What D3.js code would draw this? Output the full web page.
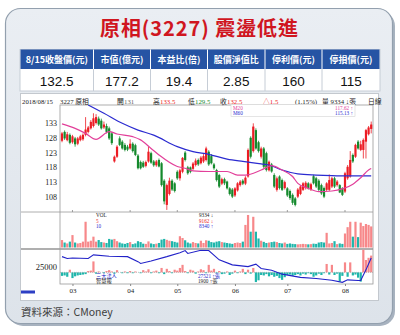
<!DOCTYPE html>
<html>
<head>
<meta charset="utf-8">
<script src="https://cdn.jsdelivr.net/npm/d3@7"></script>
<style>
html, body { margin: 0; padding: 0; background: #fff; }
svg { display: block; }
</style>
</head>
<body>
<svg id="chart" width="400" height="335"></svg>
<script>
// ---- table data
var headers = ['8/15收盤價(元)', '市值(億元)', '本益比(倍)', '股價淨值比', '停利價(元)', '停損價(元)'];
var headerValues = ['132.5', '177.2', '19.4', '2.85', '160', '115'];

// ---- daily candles (trading day index 0..118)
var opens = [127,130,127.2,129,126.5,127.8,126,127.2,127.5,129, 130,131.2,132,133,134.5,133.8,131.5,132,131.2,129.5,
  120,121.6,127.8,126.7,125.6,125,124.4,126,125.5,122, 119.8,119.6,118.5,120,122.8,120,118.7,120.5,119.4,113.5,
  105.3,109,113.5,112.6,116.5,114.3,116.5,123,118,118, 117.5,118.8,120.5,119.4,120,120.5,123.3,121.8,119,117.1,
  115.4,112.5,114,113.2,110.9,110.5,108.5,110.2,112,113.5, 112.5,114.9,128,123.5,130.6,126.5,121.6,124.4,122.8,117,
  119,115.4,110.4,114.9,113.7,111,110.9,110,108.7,107.5, 108.1,109,110.4,111,112.6,110.5,115,114.3,113.5,112,
  111,110.4,110.4,111.5,114.3,112,112,110.9,109.8,114.3, 114.9,122.2,121.6,126.7,123.9,123.9,126.7,129.2,131];
var highs = [130,130.5,130,129.5,129,128.3,128.3,129,129.5,135, 132,134,136.3,136,135.2,134.5,133.5,132.8,131.8,130,
  122,125.5,128.5,127.2,126.2,125.6,127.5,126.5,126,122.5, 120.3,120.2,120.3,125,123.3,120.5,120.5,121,119.8,114,
  112.5,114.5,114,113,117,117.5,121.5,123.5,118.5,118.3, 119.8,121,121,121.8,122.5,125,123.8,122.5,119.5,117.5,
  115.8,114.5,114.5,113.5,111.3,111,111.3,113,113.7,114, 115,124.4,128.5,132.9,131.2,127,125,124.9,123.3,120.3,
  119.5,116,114.9,115.3,114.2,113.5,111.3,110.5,109.2,108, 111,112,113,113.3,113,112.8,115.5,114.8,114,112.5,
  111.5,113,115.6,114.8,114.8,113.7,112.3,111.3,116.5,118.8, 123.5,122.7,126,127.2,127,127.8,131,132,133.5];
var lows = [126.5,127.3,126.8,125.8,126,125,125.5,126.8,127,128.5, 129.5,130.8,131.5,132.5,132,130.8,131,129.5,127.3,125.6,
  119.6,121.2,125.2,124,123.4,123.5,124,123,121.8,117.3, 117.3,117.8,118,119.6,119.2,118.2,118.2,118,111.5,105.5,
  103.6,108.5,110,109.5,113.8,113.5,116,120,115.5,116, 117,118.3,118.5,119,119.5,120,118.5,119,117.2,113.2,
  111,112,112,110.5,108.5,107.6,108,109.8,111.5,112, 112,114.5,121,123,124,123,121,117.7,116.6,116.6,
  116.2,111,109.8,110.5,110,110.5,108,107,105.3,104.8, 107.6,108.6,110,110.5,110.5,110,112.2,111,110,108.7,
  107.6,110,110,111,111,111.5,109.3,108.3,109.3,113.8, 114.5,119.5,121.2,124,123.5,121,121,128.8,129.5];
var closes = [129.5,127.8,129.2,126.3,128.5,125.8,127.8,128.5,129,130.8, 131.5,133.4,134.6,135,132.5,131.2,132.5,130,127.8,126.2,
  121.6,125,125.6,124.4,123.9,124,126,123.5,122.2,117.7, 117.7,118.2,119.8,123.3,119.6,118.7,120,118.3,112,106.5,
  112,113.5,110.5,110,114.3,117,121.2,120.5,116,116.5, 119.3,120.3,119,121.3,121.8,124.4,119,119.4,117.7,113.7,
  111.5,114,112.6,110.9,109,108.1,110.9,112.6,113.2,112.5, 114.5,123.9,121.6,131.8,124.4,123.5,124.4,118.2,117.1,119.9,
  116.6,111.5,114.3,111,110.4,113,108.5,107.6,106,105.3, 110.5,111.5,112.6,112.8,110.9,112.3,112.6,111.5,110.4,109.2,
  108.1,112.6,113.7,114.3,111.5,113.2,109.5,108.7,116,118.2, 120.5,120,125.6,124.4,125.8,127.3,130.6,131.5,132.5];
var volumes = [3300,2200,1800,2600,5500,2200,1800,2000,2600,11400, 2600,3000,4800,2600,3300,2400,2200,2000,3800,3500,
  3800,2800,2200,1800,1600,2000,2400,1500,1800,2800, 2400,1700,1600,2700,1800,1500,1700,2000,3500,3800,
  3400,3000,2800,2500,2200,5000,4200,3200,2200,1800, 2400,2000,1800,3000,2000,3200,3000,2400,2200,2600,
  2800,2400,2200,2000,1800,1600,2000,2200,2000,2600, 10000,14400,7000,13600,7000,4000,3000,2500,2000,2200,
  2400,2600,2400,2000,1800,2200,1600,1800,1600,1500, 1400,1500,1600,1500,1400,1500,1700,1600,2200,2400,
  2200,6500,1800,2000,2800,1500,1800,1600,6200,9000, 11400,4800,11400,4600,11000,9500,10400,10000,9334];
// institutional net buy/sell (張)
var instNet = [-400,-350,-500,300,-650,-450,-350,-300,-250,-200, 150,200,1240,-150,100,0,-100,150,250,100,
  -150,250,0,-100,100,-100,150,-100,100,0, -100,250,100,350,-100,100,200,-100,500,-200,
  400,150,-100,300,200,500,850,150,-100,300, 200,-150,100,350,250,-100,850,200,400,-100,
  150,-200,-150,100,-300,-150,200,-100,100,400, -200,300,-150,500,-1100,-900,-300,-350,-200,-450,
  -300,-500,-400,-650,-850,-550,-300,-250,-400,-300, -200,-350,-150,-250,-100,-200,-500,-350,-150,-300,
  -100,950,-250,850,-300,-150,-1050,-400,1130,-500, 1130,-350,-250,-600,-1050,2590,1400,1650,1900];

// ---- moving averages (day index, value)
var ma20Day = [0,5,9,13,18,21,27,30,34,37,44,47,50,56,63,67,70,76,80,84,88,90,94,98,103,107,111,114,117,118];
var ma20Val = [132.7,131.2,129.5,127.5,130.1,129.3,128.4,127.3,124.4,122.2,118.3,117.7,116.8,116.6,116.6,115.4,115.4,117.1,118.6,117.1,114.9,112.6,110.9,109.8,110,110.7,112.3,114.5,117.1,117.62];
var ma60Day = [10,16,23,29,35,44,50,56,63,69,76,79,84,90,97,103,109,118];
var ma60Val = [139.1,136.3,132.9,130.6,128.9,125,123.3,122.4,120.8,120,119.2,118.8,117.1,115.8,115.4,115.2,115.1,115.13];
// institutional holdings line
var holdDay = [0,2,4,10,12,18,25,29,30,34,40,45,47,48,53,56,60,65,71,74,76,80,84,91,97,103,107,109,113,114,116,118];
var holdVal = [27900,27400,27500,27400,28400,28000,27900,26500,26000,26700,27900,29000,29600,28800,29700,29600,27000,25600,25100,25800,24600,24100,23000,22100,21800,21300,20700,21400,21200,21200,24200,27521];

var priceTicks = [108, 113, 118, 123, 128, 133];
var monthLabels = ['03', '04', '05', '06', '07', '08'];
var monthStart = [4, 26, 44, 66, 86, 108];

var RED = '#ec1c24', GREEN = '#14892c', VRED = '#f7888a', VTEAL = '#1fb6ab';
var MA20C = '#e2409a', MA60C = '#2b2bd0';
var SERIF = '"Liberation Serif", "Noto Sans CJK TC", serif';
var SANS = '"Noto Sans CJK TC", "Liberation Sans", sans-serif';

var svg = d3.select('#chart');
var defs = svg.append('defs');

// ---- outer frame
var bg = defs.append('linearGradient').attr('id', 'bg').attr('x1', 0).attr('y1', 0).attr('x2', 0).attr('y2', 1);
bg.append('stop').attr('offset', 0).attr('stop-color', '#eaeef3');
bg.append('stop').attr('offset', 1).attr('stop-color', '#dde3ea');
svg.append('rect').attr('x', 8).attr('y', 11).attr('width', 387).attr('height', 315).attr('rx', 15)
  .attr('fill', '#a7b2bf');
svg.append('rect').attr('x', 5.5).attr('y', 8.5).attr('width', 387).attr('height', 315).attr('rx', 15)
  .attr('fill', 'url(#bg)').attr('stroke', '#93a0ae').attr('stroke-width', 1.2);

svg.append('text').attr('x', 199).attr('y', 36).attr('text-anchor', 'middle')
  .attr('font-family', SANS).attr('font-weight', 'bold').attr('font-size', 20)
  .attr('fill', '#d0161f').attr('textLength', 198).attr('lengthAdjust', 'spacing')
  .text('原相(3227) 震盪低進');

// ---- table
var colW = [73.5, 57, 57, 57.5, 57, 58];
var colX = [20];
colW.forEach(function(w, i) { colX.push(colX[i] + w); });
var tbl = svg.append('g');
tbl.append('rect').attr('x', 20).attr('y', 49.5).attr('width', 360).attr('height', 41.5).attr('fill', '#fff')
  .attr('stroke', '#c6cdd6');
tbl.selectAll('rect.h').data(headers).join('rect').attr('class', 'h')
  .attr('x', function(d, i) { return colX[i] + 0.5; }).attr('y', 49.5)
  .attr('width', function(d, i) { return colW[i] - 1; }).attr('height', 19.5)
  .attr('fill', '#2654a4');
tbl.selectAll('text.h').data(headers).join('text').attr('class', 'h')
  .attr('x', function(d, i) { return colX[i] + colW[i] / 2; }).attr('y', 63)
  .attr('text-anchor', 'middle').attr('font-family', SANS).attr('font-weight', 'bold')
  .attr('font-size', 9).attr('fill', '#fff').text(function(d) { return d; });
tbl.selectAll('line.v').data(colX.slice(1, -1)).join('line').attr('class', 'v')
  .attr('x1', function(d) { return d; }).attr('x2', function(d) { return d; })
  .attr('y1', 69).attr('y2', 91).attr('stroke', '#c6cdd6');
tbl.selectAll('text.v').data(headerValues).join('text').attr('class', 'v')
  .attr('x', function(d, i) { return colX[i] + colW[i] / 2; }).attr('y', 86)
  .attr('text-anchor', 'middle').attr('font-family', '"Liberation Sans", Arial, sans-serif')
  .attr('font-size', 13.5).attr('fill', '#111').text(function(d) { return d; });

// ---- chart panel
svg.append('rect').attr('x', 20.5).attr('y', 93.5).attr('width', 358).attr('height', 207)
  .attr('fill', '#fff').attr('stroke', '#c3c8ce');

var L = 60, R = 373, PT = 105, PB = 212, VT = 212, VB = 248.5, IT = 249.5, IB = 284;
var x = d3.scaleLinear().domain([0, 118]).range([62, 371.2]);
var yP = d3.scaleLinear().domain([102.9, 139.1]).range([PB, PT]);
var yV = d3.scaleLinear().domain([0, 15500]).range([247.5, 212.5]);
var yI = d3.scaleLinear().domain([-1320, 2590]).range([IB, IT]);
var yH = d3.scaleLinear().domain([20000, 30000]).range([284.86, 249.14]);

[['clipP', PT, PB], ['clipV', VT, VB], ['clipI', IT, IB]].forEach(function(c) {
  defs.append('clipPath').attr('id', c[0]).append('rect')
    .attr('x', L).attr('y', c[1]).attr('width', R - L).attr('height', c[2] - c[1]);
});

var days = d3.range(closes.length);
function isUp(i) { return closes[i] >= opens[i]; }

// frame lines
var fr = svg.append('g').attr('stroke', '#9a9a9a').attr('stroke-width', 0.8).attr('fill', 'none');
fr.append('rect').attr('x', L).attr('y', PT).attr('width', R - L).attr('height', IB - PT);
[PB, VB, IT].forEach(function(yy) {
  fr.append('line').attr('x1', 21).attr('x2', R).attr('y1', yy).attr('y2', yy);
});

// info row
var info = [
  ['2018/08/15', 22, '#222'], ['3227 原相', 60, '#222'], ['開', 117, '#222'], ['131', 124, '#666'],
  ['高', 153, '#222'], ['133.5', 160, RED], ['低', 188, '#222'], ['129.5', 195, GREEN],
  ['收', 220, '#222'], ['132.5', 227, RED], ['△1.5', 263, RED], ['(1.15%)', 295, '#222'],
  ['量 9334 ↓張', 322, '#222'], ['日線', 368, '#222']
];
svg.append('g').selectAll('text').data(info).join('text')
  .attr('x', function(d) { return d[1]; }).attr('y', 103.5)
  .attr('font-family', SERIF).attr('font-size', 6.8).attr('fill', function(d) { return d[2]; })
  .text(function(d) { return d[0]; });

// price axis
var ay = svg.append('g').attr('transform', 'translate(57,0)')
  .call(d3.axisLeft(yP).tickValues(priceTicks).tickSize(0).tickPadding(0));
ay.select('.domain').remove();
ay.selectAll('text').attr('font-family', SERIF).attr('font-size', 8).attr('fill', '#222');

// month ticks
svg.append('g').selectAll('line').data(monthStart).join('line')
  .attr('x1', function(d) { return x(d); }).attr('x2', function(d) { return x(d); })
  .attr('y1', PB - 2).attr('y2', PB).attr('stroke', '#888').attr('stroke-width', 0.8);
var ax = svg.append('g').attr('transform', 'translate(0,' + IB + ')')
  .call(d3.axisBottom(x).tickValues(monthStart).tickSize(2).tickPadding(2)
    .tickFormat(function(d, i) { return monthLabels[i]; }));
ax.select('.domain').remove();
ax.selectAll('line').attr('stroke', '#888');
ax.selectAll('text').attr('font-family', SERIF).attr('font-size', 7).attr('fill', '#222');

// candles
var cg = svg.append('g').attr('clip-path', 'url(#clipP)');
cg.selectAll('line').data(days).join('line')
  .attr('x1', function(i) { return x(i); }).attr('x2', function(i) { return x(i); })
  .attr('y1', function(i) { return yP(highs[i]); }).attr('y2', function(i) { return yP(lows[i]); })
  .attr('stroke', function(i) { return isUp(i) ? RED : GREEN; }).attr('stroke-width', 0.8);
cg.selectAll('rect').data(days).join('rect')
  .attr('x', function(i) { return x(i) - 1.1; }).attr('width', 2.2)
  .attr('y', function(i) { return yP(Math.max(opens[i], closes[i])); })
  .attr('height', function(i) { return Math.max(0.8, Math.abs(yP(opens[i]) - yP(closes[i]))); })
  .attr('fill', function(i) { return isUp(i) ? RED : GREEN; });

var maLine = d3.line().x(function(d) { return x(d[0]); }).y(function(d) { return yP(d[1]); }).curve(d3.curveMonotoneX);
cg.append('path').attr('d', maLine(d3.zip(ma60Day, ma60Val)))
  .attr('fill', 'none').attr('stroke', MA60C).attr('stroke-width', 1.2);
cg.append('path').attr('d', maLine(d3.zip(ma20Day, ma20Val)))
  .attr('fill', 'none').attr('stroke', MA20C).attr('stroke-width', 1.2);

// MA legend box
var lg = svg.append('g').attr('font-family', SERIF).attr('font-size', 5.2);
lg.append('rect').attr('x', 231).attr('y', 104.5).attr('width', 124).attr('height', 12)
  .attr('fill', '#fff').attr('stroke', '#d4d4d4').attr('stroke-width', 0.6);
lg.append('text').attr('x', 233).attr('y', 109.6).attr('fill', MA20C).text('M20');
lg.append('text').attr('x', 233).attr('y', 115.2).attr('fill', MA60C).text('M60');
lg.append('text').attr('x', 353).attr('y', 109.6).attr('text-anchor', 'end').attr('fill', MA20C).text('117.62 ↑');
lg.append('text').attr('x', 353).attr('y', 115.2).attr('text-anchor', 'end').attr('fill', MA60C).text('115.13 ↑');

// volume
var vg = svg.append('g').attr('clip-path', 'url(#clipV)');
vg.selectAll('rect').data(days).join('rect')
  .attr('x', function(i) { return x(i) - 1.1; }).attr('width', 2.2)
  .attr('y', function(i) { return yV(volumes[i]); })
  .attr('height', function(i) { return yV(0) - yV(volumes[i]); })
  .attr('fill', function(i) { return isUp(i) ? VRED : VTEAL; });
var vl = svg.append('g').attr('font-family', SERIF).attr('font-size', 5.2);
vl.append('text').attr('x', 96).attr('y', 217).attr('fill', '#222').text('VOL');
vl.append('text').attr('x', 96).attr('y', 222.5).attr('fill', RED).text('5');
vl.append('text').attr('x', 96).attr('y', 228).attr('fill', MA60C).text('10');
vl.append('text').attr('x', 199).attr('y', 217).attr('fill', '#222').text('9334 ↓');
vl.append('text').attr('x', 199).attr('y', 222.5).attr('fill', RED).text('9162 ↓');
vl.append('text').attr('x', 199).attr('y', 228).attr('fill', MA60C).text('8340 ↑');

// institutional panel
var ig = svg.append('g').attr('clip-path', 'url(#clipI)');
ig.selectAll('rect').data(days).join('rect')
  .attr('x', function(i) { return x(i) - 1.1; }).attr('width', 2.2)
  .attr('y', function(i) { return Math.min(yI(instNet[i]), yI(0)); })
  .attr('height', function(i) { return Math.abs(yI(instNet[i]) - yI(0)); })
  .attr('fill', function(i) { return instNet[i] >= 0 ? VRED : VTEAL; });
ig.append('line').attr('x1', L).attr('x2', R).attr('y1', yI(0)).attr('y2', yI(0))
  .attr('stroke', '#999').attr('stroke-width', 0.6).attr('stroke-dasharray', '1,1');
ig.append('path')
  .attr('d', d3.line().x(function(d) { return x(d[0]); }).y(function(d) { return yH(d[1]); })(d3.zip(holdDay, holdVal)))
  .attr('fill', 'none').attr('stroke', '#2222c8').attr('stroke-width', 1.1);

var ah = svg.append('g').attr('transform', 'translate(57,0)')
  .call(d3.axisLeft(yH).tickValues([25000]).tickFormat(d3.format('d')).tickSize(0).tickPadding(0));
ah.select('.domain').remove();
ah.selectAll('text').attr('font-family', SERIF).attr('font-size', 8.5).attr('fill', '#222');

var il = svg.append('g').attr('font-family', SERIF).attr('font-size', 5.2);
il.append('text').attr('x', 96).attr('y', 278).attr('fill', '#2222c8').text('三大法人');
il.append('text').attr('x', 96).attr('y', 283.3).attr('fill', '#222').text('智慧報');
il.append('text').attr('x', 198).attr('y', 278).attr('fill', '#2222c8').text('27521 ↑張');
il.append('text').attr('x', 198).attr('y', 283.3).attr('fill', '#222').text('1900 ↑張');

svg.append('rect').attr('x', 21).attr('y', 290.5).attr('width', 14).attr('height', 3).attr('fill', '#2d3fc4');

// source
svg.append('text').attr('x', 21).attr('y', 316).attr('font-family', SANS).attr('font-size', 10.5)
  .attr('fill', '#3d3d3d').text('資料來源：CMoney');
</script>
</body>
</html>
